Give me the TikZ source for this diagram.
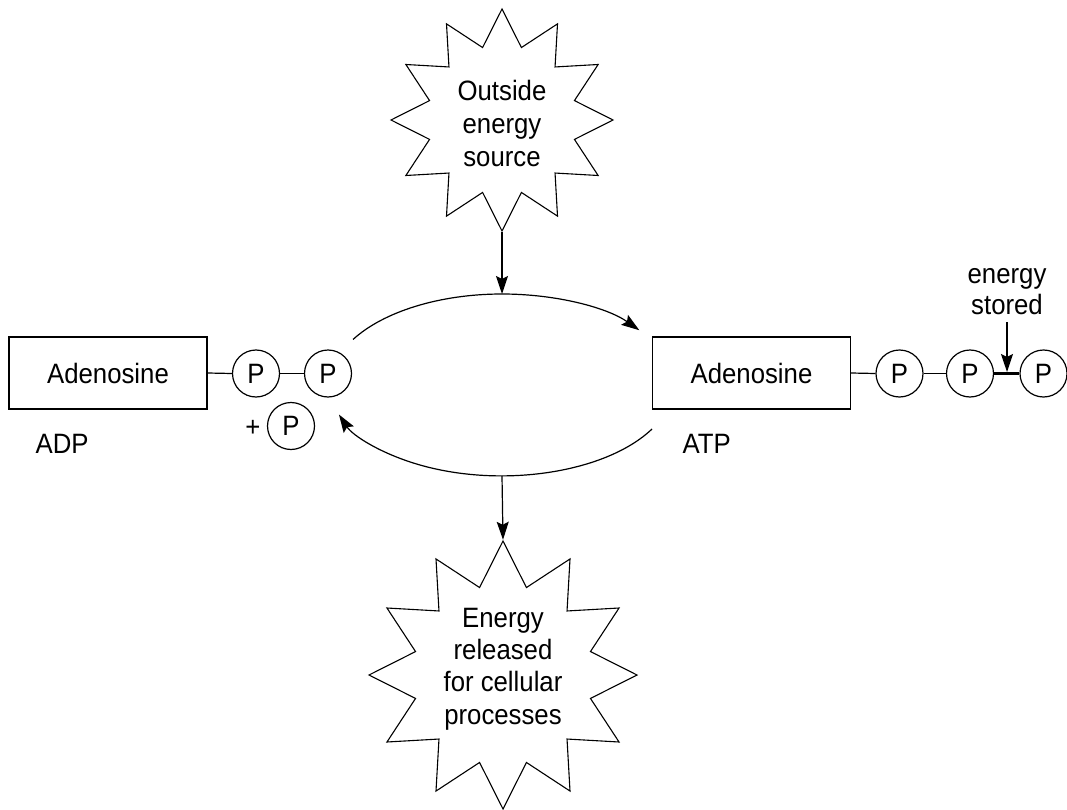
\documentclass[tikz,border=0pt]{standalone}
\usepackage{fontspec}
\setmainfont{Liberation Sans}[FakeStretch=0.92]
\usetikzlibrary{shapes.geometric, arrows.meta}

\begin{document}
\begin{tikzpicture}[x=1pt, y=-1pt,
  font=\fontsize{28}{33}\selectfont,
  line width=1.2pt,
  arr/.style={-{Stealth[length=18pt,width=12pt,inset=3pt]}},
  burst/.style={star, star points=12, star point ratio=1.48, draw, line width=1.1pt, inner sep=0pt},
  basebox/.style={draw, rectangle, minimum width=198pt, minimum height=72pt, inner sep=0pt},
  phos/.style={draw, circle, minimum size=47pt, inner sep=0pt},
  highbond/.style={line width=3pt},
  lbl/.style={inner sep=0pt, align=center},
]
\useasboundingbox (0,0) rectangle (1067,810);

% energy bursts
\node[burst, minimum size=222pt] (src) at (502,120) {};
\node[lbl] (srctext) at (502,123) {Outside\\energy\\source};
\node[burst, minimum size=268pt] (rel) at (503,675) {};
\node[lbl, font=\fontsize{28}{32.3}\selectfont] (reltext) at (503,669) {Energy\\released\\for cellular\\processes};

% ADP
\node[basebox] (adpbase) at (108,373) {Adenosine};
\node[phos] (adp1) at (256,373.5) {P};
\node[phos] (adp2) at (328,373.5) {P};
\node[phos] (pfree) at (291,426) {P};
\node[lbl] (plus) at (253,428) {+};
\node[lbl, anchor=base west] (adplbl) at (35,453) {ADP};
\draw (adpbase.east) -- (adp1.west);
\draw (adp1.east) -- (adp2.west);

% ATP
\node[basebox] (atpbase) at (751.5,373) {Adenosine};
\node[phos] (atp1) at (899.5,373.5) {P};
\node[phos] (atp2) at (970,373.5) {P};
\node[phos] (atp3) at (1043.5,373.5) {P};
\node[lbl, anchor=base west] (atplbl) at (682,453) {ATP};
\draw (atpbase.east) -- (atp1.west);
\draw (atp1.east) -- (atp2.west);
\draw[highbond] (atp2.east) -- (atp3.west);
\coordinate (bondmid) at (1007,372);
\node[lbl, font=\fontsize{28}{31}\selectfont] (stored) at (1007,292) {energy\\stored};
\draw[arr] (1007,322) -- (bondmid);

% reaction cycle
\coordinate (adpout) at (353,339.5);
\coordinate (atpout) at (652,429);
\coordinate (cyctop) at (502,294);
\coordinate (cycbot) at (502,476);
\draw[arr] (adpout) arc[start angle=210, end angle=323, x radius=172, y radius=91];
\draw[arr] (atpout) arc[start angle=29, end angle=161, x radius=172, y radius=91];
\draw[arr] (src.south) -- (cyctop);
\draw[arr] (cycbot) -- (rel.north);
\end{tikzpicture}
\end{document}
